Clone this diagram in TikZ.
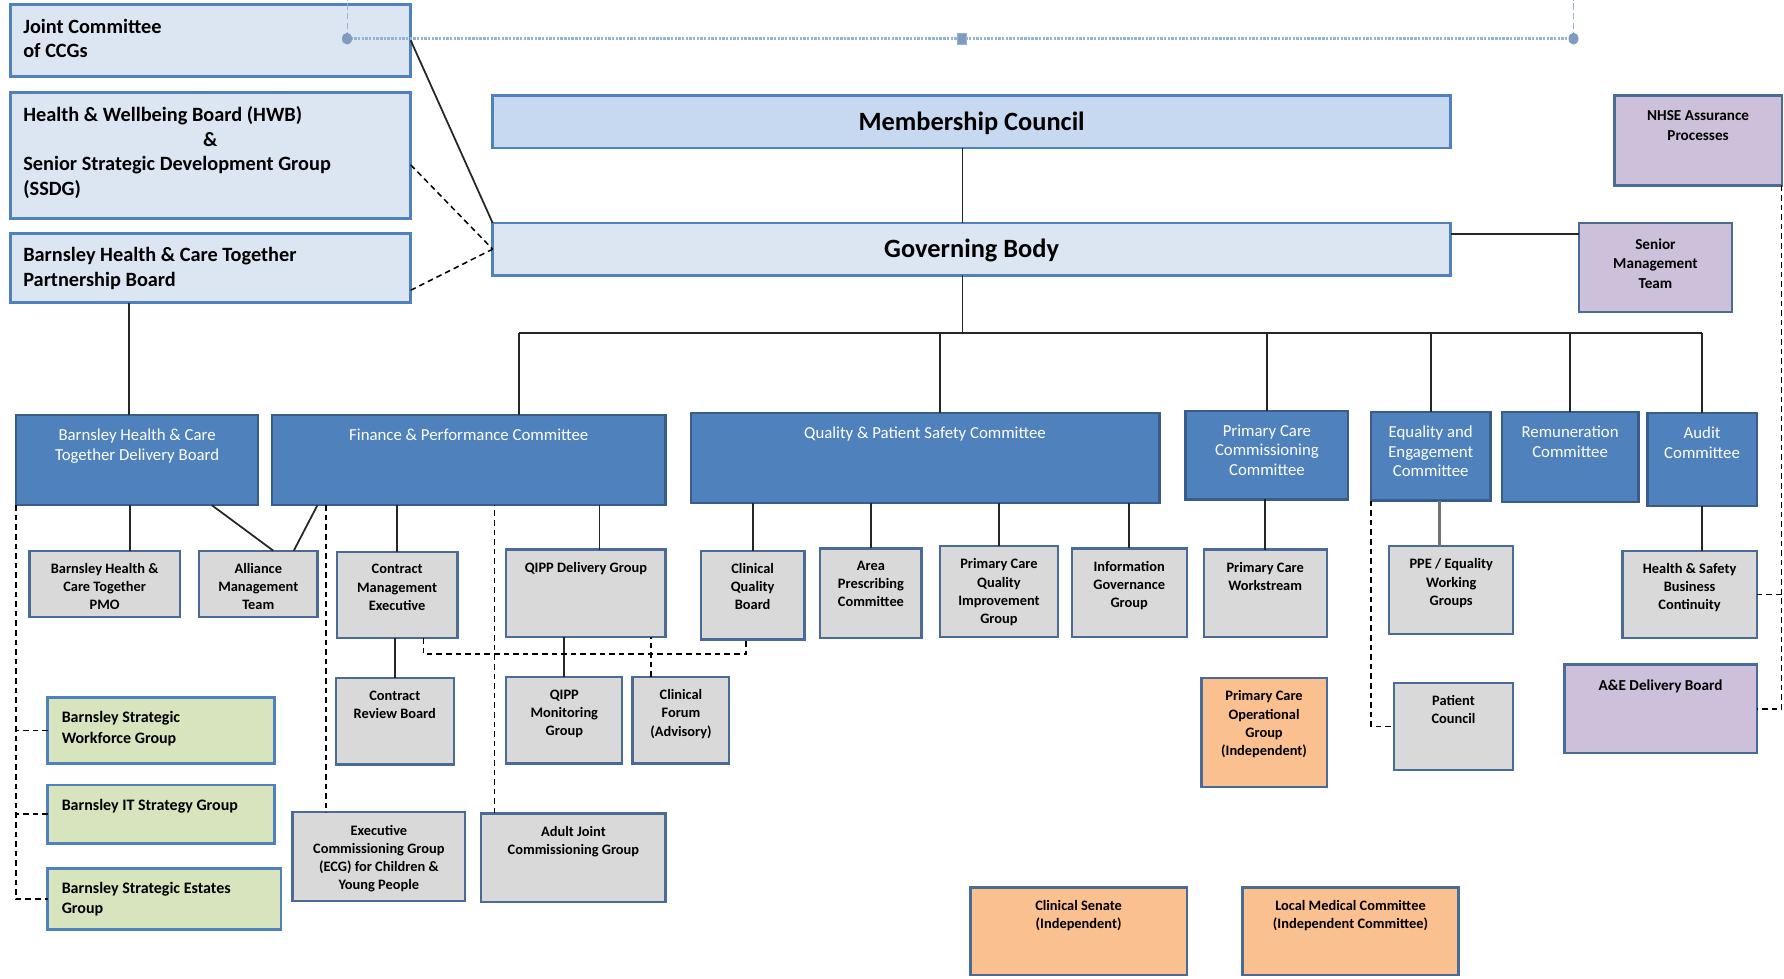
\documentclass[tikz,border=0pt]{standalone}
\usepackage{fontspec}
\setmainfont{Carlito}

\definecolor{paleblue}{HTML}{DCE6F2}
\definecolor{mcblue}{HTML}{C6D9F1}
\definecolor{edgeblue}{HTML}{4F81BD}
\definecolor{comblue}{HTML}{4F81BD}
\definecolor{comedge}{HTML}{385D8A}
\definecolor{subgray}{HTML}{D9D9D9}
\definecolor{subedge}{HTML}{4A6B98}
\definecolor{lilac}{HTML}{CCC0DA}
\definecolor{sage}{HTML}{D7E4BD}
\definecolor{peach}{HTML}{FAC090}
\definecolor{linkblue}{HTML}{95B3D7}
\definecolor{dotblue}{HTML}{7F9CC0}

\tikzset{
  wh/.style 2 args={minimum width=#1*0.025cm, minimum height=#2*0.025cm},
  anybox/.style={rectangle, anchor=north west, inner sep=0pt, outer sep=0pt},
  tlbox/.style={anybox, fill=paleblue, draw=edgeblue, line width=1.8pt},
  mainbox/.style={anybox, draw=edgeblue, line width=1.6pt, text height=11pt, text depth=0pt, font=\fontsize{16.5}{20}\bfseries\selectfont},
  combox/.style={anybox, fill=comblue, draw=comedge, line width=1.4pt},
  subbox/.style={anybox, fill=subgray, draw=subedge, line width=1.4pt},
  lilacbox/.style={anybox, fill=lilac, draw=subedge, line width=1.4pt},
  indbox/.style={anybox, fill=peach, draw=subedge, line width=1.4pt},
  sagebox/.style={anybox, fill=sage, draw=edgeblue, line width=1.8pt},
  tltext/.style={anchor=north west, inner sep=0pt, align=left, xshift=0.28cm, yshift=-0.31cm, font=\fontsize{12.7}{15.4}\bfseries\selectfont},
  sagetext/.style={anchor=north west, inner sep=0pt, align=left, xshift=0.3cm, yshift=-0.3cm, font=\fontsize{10}{12.8}\bfseries\selectfont},
  comtext/.style={anchor=north, inner sep=0pt, align=center, text=white, yshift=-0.295cm, font=\fontsize{10.5}{12.4}\selectfont},
  subtext/.style={anchor=north, inner sep=0pt, align=center, yshift=-0.27cm, font=\fontsize{9}{11.4}\bfseries\selectfont},
  lilactext/.style={anchor=north, inner sep=0pt, align=center, yshift=-0.33cm, font=\fontsize{9.5}{12.3}\bfseries\selectfont},
  link/.style={draw=black!85, line width=1.1pt},
  dlink/.style={draw=black, line width=0.95pt, dash pattern=on 3.5pt off 2.5pt},
  toplink/.style={draw=linkblue, line width=1.5pt, dash pattern=on 1.5pt off 0.8pt},
  thinlink/.style={draw=linkblue, line width=0.6pt, dash pattern=on 4pt off 2pt}
}

\begin{document}
\begin{tikzpicture}[x=0.025cm, y=-0.025cm]
\useasboundingbox (0,0) rectangle (1568,860);
\coordinate (pagetop) at (0,0);

\node[tlbox, wh={352}{63}, label={[tltext]north west:{Joint Committee\\of CCGs}}] (jc) at (9,4) {};
\node[tlbox, wh={352}{111}, label={[tltext]north west:{Health \& Wellbeing Board (HWB)\\\hspace*{3.95cm}\&\\Senior Strategic Development Group\\(SSDG)}}] (hwb) at (9,81) {};
\node[tlbox, wh={352}{61}, label={[tltext]north west:{Barnsley Health \& Care Together\\Partnership Board}}] (pb) at (9,205) {};

\node[mainbox, fill=mcblue, wh={842}{46}] (mc) at (433,84) {Membership Council};
\node[mainbox, fill=paleblue, wh={842}{46}] (gb) at (433,196) {Governing Body};

\node[lilacbox, wh={147}{79}, label={[lilactext]north:{NHSE Assurance\\Processes}}] (nhse) at (1419,84) {};
\node[lilacbox, wh={134}{78}, label={[lilactext]north:{Senior\\Management\\Team}}] (smt) at (1388,196) {};
\node[lilacbox, wh={169}{78}, label={[lilactext]north:{A\&E Delivery Board}}] (ae) at (1375,584) {};

\node[combox, wh={213}{79}, label={[comtext]north:{Barnsley Health \& Care\\Together Delivery Board}}] (db) at (14,365) {};
\node[combox, wh={346}{79}, label={[comtext]north:{Finance \& Performance Committee}}] (fpc) at (239,365) {};
\node[combox, wh={412}{79}, label={[comtext]north:{Quality \& Patient Safety Committee}}] (qpsc) at (607,363) {};
\node[combox, wh={143}{78}, label={[comtext]north:{Primary Care\\Commissioning\\Committee}}] (pccc) at (1042,361) {};
\node[combox, wh={105}{78}, label={[comtext]north:{Equality and\\Engagement\\Committee}}] (eec) at (1205,362) {};
\node[combox, wh={120}{79}, label={[comtext]north:{Remuneration\\Committee}}] (rc) at (1320,362) {};
\node[combox, wh={96}{82}, label={[comtext]north:{Audit\\Committee}}] (ac) at (1448,363) {};

\node[subbox, wh={132}{58}, label={[subtext]north:{Barnsley Health \&\\Care Together\\PMO}}] (pmo) at (26,484) {};
\node[subbox, wh={104}{58}, label={[subtext]north:{Alliance\\Management\\Team}}] (amt) at (175,484) {};
\node[subbox, wh={106}{76}, label={[subtext]north:{Contract\\Management\\Executive}}] (cme) at (296,485) {};
\node[subbox, wh={140}{77}, label={[subtext]north:{QIPP Delivery Group}}] (qdg) at (445,483) {};
\node[subbox, wh={91}{78}, label={[subtext]north:{Clinical\\Quality\\Board}}] (cqb) at (616,484) {};
\node[subbox, wh={89}{79}, label={[subtext]north:{Area\\Prescribing\\Committee}}] (apc) at (721,482) {};
\node[subbox, wh={104}{80}, label={[subtext]north:{Primary Care\\Quality\\Improvement\\Group}}] (pcq) at (826,480) {};
\node[subbox, wh={101}{78}, label={[subtext]north:{Information\\Governance\\Group}}] (igg) at (942,482) {};
\node[subbox, wh={108}{77}, label={[subtext]north:{Primary Care\\Workstream}}] (pcw) at (1058,483) {};
\node[subbox, wh={109}{77}, label={[subtext]north:{PPE / Equality\\Working\\Groups}}] (ppe) at (1221,480) {};
\node[subbox, wh={118}{77}, label={[subtext]north:{Health \& Safety\\Business\\Continuity}}] (hsbc) at (1426,484) {};
\node[subbox, wh={104}{76}, label={[subtext]north:{Contract\\Review Board}}] (crb) at (295,596) {};
\node[subbox, wh={102}{76}, label={[subtext]north:{QIPP\\Monitoring\\Group}}] (qmg) at (445,595) {};
\node[subbox, wh={85}{76}, label={[subtext]north:{Clinical\\Forum\\(Advisory)}}] (cf) at (556,595) {};
\node[subbox, wh={105}{77}, label={[subtext]north:{Patient\\Council}}] (pc) at (1225,600) {};
\node[subbox, wh={152}{78}, label={[subtext]north:{Executive\\Commissioning Group\\(ECG) for Children \&\\Young People}}] (ecg) at (257,714) {};
\node[subbox, wh={162}{78}, label={[subtext]north:{Adult Joint\\Commissioning Group}}] (ajcg) at (423,715) {};

\node[indbox, wh={110}{96}, label={[subtext]north:{Primary Care\\Operational\\Group\\(Independent)}}] (pcog) at (1056,596) {};
\node[indbox, wh={190}{77}, label={[subtext]north:{Clinical Senate\\(Independent)}}] (cs) at (853,780) {};
\node[indbox, wh={190}{77}, label={[subtext]north:{Local Medical Committee\\(Independent Committee)}}] (lmc) at (1092,780) {};

\node[sagebox, wh={199}{58}, label={[sagetext]north west:{Barnsley Strategic\\Workforce Group}}] (wfg) at (42,613) {};
\node[sagebox, wh={199}{51}, label={[sagetext]north west:{Barnsley IT Strategy Group}}] (itg) at (42,690) {};
\node[sagebox, wh={205}{54}, label={[sagetext]north west:{Barnsley Strategic Estates\\Group}}] (esg) at (42,763) {};

\coordinate (jcdot) at (305,34);
\coordinate (nhsedot) at (1383,34);
\draw[thinlink] (jcdot) -- (jcdot |- pagetop);
\draw[thinlink] (nhsedot) -- (nhsedot |- pagetop);
\draw[toplink] (jcdot) -- (nhsedot);
\fill[dotblue] (jcdot) ellipse [x radius=0.11cm, y radius=0.13cm];
\fill[dotblue] (nhsedot) ellipse [x radius=0.11cm, y radius=0.13cm];
\filldraw[fill=dotblue, draw=linkblue] (841,29) rectangle (849,39);

\draw[link] (jc.east) -- (gb.north west);
\draw[dlink] ([yshift=-0.21cm]hwb.east) -- (gb.west);
\draw[dlink] ([yshift=-0.49cm]pb.east) -- (gb.west);
\draw[link] ([xshift=-0.2cm]mc.south) -- ([xshift=-0.2cm]gb.north);
\draw[link] ([yshift=0.33cm]gb.east) -- ([yshift=0.33cm]gb.east -| smt.west);

\coordinate (trunk) at (846,293);
\coordinate (busl) at (456,293);
\draw[link] (gb.south -| trunk) -- (trunk);
\draw[link] (busl) -- (ac.north |- busl);
\draw[link] (busl) -- (busl |- fpc.north);
\draw[link] ([xshift=0.33cm]qpsc.north) -- ([xshift=0.33cm]qpsc.north |- busl);
\foreach \c in {pccc,eec,rc,ac}
  \draw[link] (\c.north) -- (\c.north |- busl);
\draw[link] ([xshift=-0.18cm]db.north) -- ([xshift=-0.18cm]db.north |- pb.south);

\draw[link] ([xshift=0.55cm]pmo.north) -- ([xshift=0.55cm]pmo.north |- db.south);
\draw[link] ([xshift=1.64cm]db.south) -- ([xshift=0.33cm]amt.north);
\draw[link] ([xshift=1cm]fpc.south west) -- ([xshift=0.78cm]amt.north);
\draw[link] (cme.north) -- (cme.north |- fpc.south);
\draw[link] ([xshift=0.3cm]qdg.north) -- ([xshift=0.3cm]qdg.north |- fpc.south);
\foreach \c in {cqb,apc,pcq,igg}
  \draw[link] (\c.north) -- (\c.north |- qpsc.south);
\draw[link] (pcw.north) -- (pcw.north |- pccc.south);
\draw[link, draw=black!55, line width=1.6pt] ([xshift=-0.26cm]ppe.north) -- ([xshift=-0.26cm]ppe.north |- eec.south);
\draw[link] (ac.south) -- (ac.south |- hsbc.north);
\draw[link] (crb.north) -- (crb.north |- cme.south);
\draw[link] (qmg.north) -- (qmg.north |- qdg.south);

\draw[dlink] ([xshift=0.58cm]cme.south) -- ++(0,-0.35cm) -| ([xshift=-0.15cm]cqb.south);
\draw[dlink] ([xshift=0.4cm]cf.north west) -- ([xshift=0.4cm]cf.north west |- qdg.south);
\draw[dlink] (db.south west) |- (esg.west);
\draw[dlink] (wfg.west) -- (wfg.west -| db.south west);
\draw[dlink] (itg.west) -- (itg.west -| db.south west);
\draw[dlink] ([xshift=1.19cm]fpc.south west) -- ([xshift=1.19cm]fpc.south west |- ecg.north);
\draw[dlink] ([xshift=0.29cm]ajcg.north west) -- ([xshift=0.29cm]ajcg.north west |- fpc.south);
\draw[dlink] (eec.south west) |- (pc.west);
\draw[dlink] (nhse.south east) |- (ae.east);
\draw[dlink] (hsbc.east) -- (hsbc.east -| nhse.south east);
\end{tikzpicture}
\end{document}
